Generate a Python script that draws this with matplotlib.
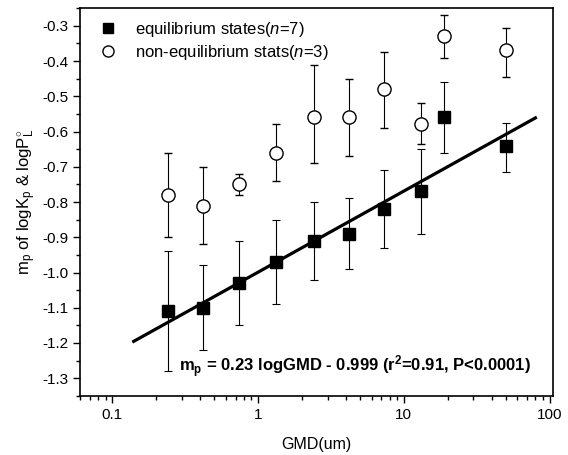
import matplotlib
matplotlib.use("Agg")
import matplotlib.pyplot as plt
import numpy as np
from matplotlib.lines import Line2D

plt.rcParams['font.family'] = ['Liberation Sans', 'DejaVu Sans']
plt.rcParams['mathtext.fontset'] = 'custom'
plt.rcParams['mathtext.rm'] = 'Liberation Sans'
plt.rcParams['mathtext.it'] = 'Liberation Sans:italic'
plt.rcParams['mathtext.bf'] = 'Liberation Sans:bold'

# Data
gmd = [0.24, 0.42, 0.74, 1.33, 2.4, 4.2, 7.3, 13.1, 18.8, 50]
eq = [-1.11, -1.10, -1.03, -0.97, -0.91, -0.89, -0.82, -0.77, -0.56, -0.64]
eq_hi = [-0.94, -0.98, -0.91, -0.85, -0.80, -0.79, -0.71, -0.65, -0.46, -0.575]
eq_lo = [-1.28, -1.22, -1.15, -1.09, -1.02, -0.99, -0.93, -0.89, -0.66, -0.715]
neq = [-0.78, -0.81, -0.75, -0.66, -0.56, -0.56, -0.48, -0.58, -0.33, -0.37]
neq_hi = [-0.66, -0.70, -0.72, -0.58, -0.41, -0.45, -0.375, -0.52, -0.27, -0.305]
neq_lo = [-0.90, -0.92, -0.78, -0.74, -0.69, -0.67, -0.59, -0.635, -0.39, -0.445]
slope, intercept = 0.23, -0.999
fit_range = [0.14, 80]

fig = plt.figure(figsize=(5.68, 4.55), dpi=100)
ax = fig.add_axes([0.141, 0.130, 0.833, 0.852])

eq_a = np.array(eq); neq_a = np.array(neq)
ax.errorbar(gmd, neq, yerr=[neq_a - np.array(neq_lo), np.array(neq_hi) - neq_a],
            fmt='o', ms=9.5, mfc='white', mec='black', mew=1.0, ecolor='black',
            elinewidth=0.8, capsize=3.2, capthick=0.8, zorder=3)
ax.errorbar(gmd, eq, yerr=[eq_a - np.array(eq_lo), np.array(eq_hi) - eq_a],
            fmt='s', ms=9, mfc='black', mec='black', ecolor='black',
            elinewidth=0.8, capsize=3.2, capthick=0.8, zorder=4)

xf = np.logspace(np.log10(fit_range[0]), np.log10(fit_range[1]), 50)
ax.plot(xf, slope * np.log10(xf) + intercept, color='black', lw=2.3, zorder=5)

ax.set_xscale('log')
ax.set_xlim(0.06, 106)
ax.set_ylim(-1.35, -0.25)
yt = np.arange(-1.3, -0.25, 0.1)
ax.set_yticks(yt)
ax.set_yticklabels(['%.1f' % v for v in yt])
ax.set_yticks(np.arange(-1.35, -0.24, 0.05), minor=True)
ax.set_xticks([0.1, 1, 10, 100])
ax.set_xticklabels(['0.1', '1', '10', '100'])
ax.tick_params(axis='both', which='major', direction='out', length=5, width=1, labelsize=11)
ax.tick_params(axis='both', which='minor', direction='out', length=3, width=1)
for s in ax.spines.values():
    s.set_linewidth(1.2)

ax.set_xlabel('GMD(um)', fontsize=11.5, labelpad=11)
ax.set_ylabel(r'm$_\mathregular{p}$ of logK$_\mathregular{p}$ & logP$^{\circ}_\mathregular{L}$',
              fontsize=12, labelpad=3)

h = [Line2D([], [], marker='s', ls='none', color='black', ms=7),
     Line2D([], [], marker='o', ls='none', mfc='white', mec='black', ms=8)]
ax.legend(h, [r'equilibrium states($n$=7)', r'non-equilibrium stats($n$=3)'],
          loc='upper left', frameon=False, fontsize=12, handletextpad=0.6,
          borderaxespad=0.3, labelspacing=0.25, bbox_to_anchor=(0.0, 1.0))

ax.text(0.208, 0.04, r'm$_\mathbf{p}$ = 0.23 logGMD - 0.999 (r$^\mathbf{2}$=0.91, P<0.0001)',
        transform=ax.transAxes, fontsize=12, fontweight='bold', ha='left', va='bottom')

fig.savefig('out.png', dpi=100)
